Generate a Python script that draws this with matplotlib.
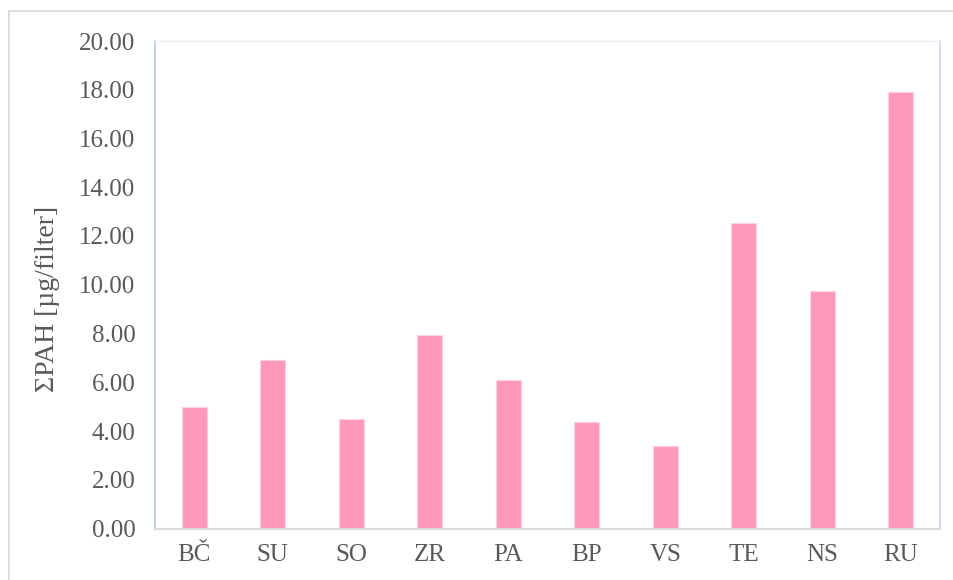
import matplotlib
matplotlib.use("Agg")
import matplotlib.pyplot as plt
from matplotlib.lines import Line2D

categories = ["BČ", "SU", "SO", "ZR", "PA", "BP", "VS", "TE", "NS", "RU"]
values = [5.00, 6.91, 4.49, 7.94, 6.08, 4.38, 3.40, 12.55, 9.74, 17.90]
yticks = [0, 2, 4, 6, 8, 10, 12, 14, 16, 18, 20]
ylabel = "ΣPAH [µg/filter]"

W, H = 954, 580
fig = plt.figure(figsize=(W / 100, H / 100), dpi=100)
fig.patch.set_facecolor("white")

# outer chart border
fig.add_artist(Line2D([9 / W, 9 / W], [0, 1 - 11 / H], color="#d9d9d9", lw=1.2))
fig.add_artist(Line2D([9 / W, 1], [1 - 11 / H, 1 - 11 / H], color="#d9d9d9", lw=1.2))

left, right, top, bottom = 155, 940, 41, 528.5
ax = fig.add_axes([left / W, 1 - bottom / H, (right - left) / W, (bottom - top) / H])

x = range(len(categories))
ax.bar(x, values, width=0.32, color="#ff99b9", edgecolor="#ffd0de", linewidth=0.8, zorder=3)

ax.set_xlim(-0.5, len(categories) - 0.5)
ax.set_ylim(0, 20)
ax.set_yticks(yticks)
ax.set_yticklabels([f"{v:.2f}" for v in yticks])
ax.set_xticks(list(x))
ax.set_xticklabels(categories)

for lab in ax.get_yticklabels() + ax.get_xticklabels():
    lab.set_fontfamily("Liberation Serif")
    lab.set_fontsize(18)
    lab.set_color("#595959")
ax.tick_params(axis="y", length=0, pad=14)
ax.tick_params(axis="x", length=0, pad=11)

ax.spines["left"].set_color("#b4c7e7")
ax.spines["left"].set_linewidth(1.2)
ax.spines["right"].set_color("#c9d5ea")
ax.spines["right"].set_linewidth(1.2)
ax.spines["top"].set_color("#eef2f8")
ax.spines["top"].set_linewidth(1.0)
ax.spines["bottom"].set_color("#d9d9d9")
ax.spines["bottom"].set_linewidth(1.5)
ax.spines["bottom"].set_zorder(4)

fig.text(48 / W, 1 - 299 / H, ylabel, rotation=90, ha="center", va="center",
         family="Liberation Serif", size=20, color="#595959")

fig.savefig("out.png", dpi=100, facecolor="white")
